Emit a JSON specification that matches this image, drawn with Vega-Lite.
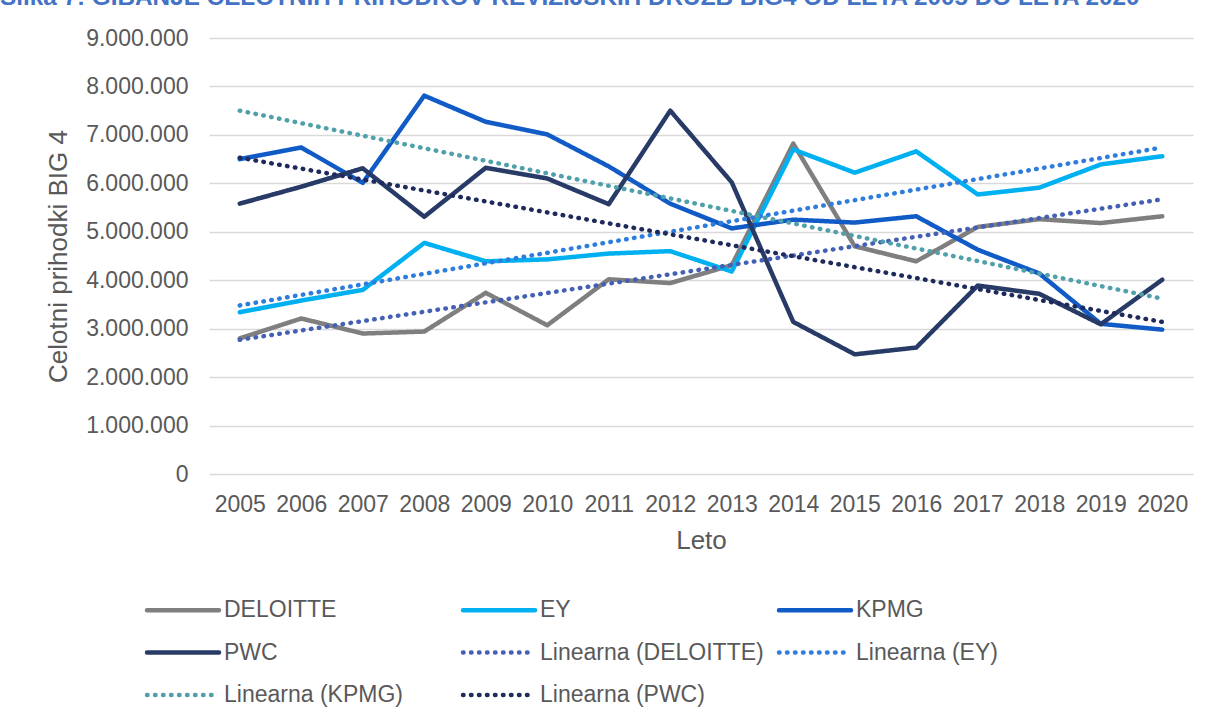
{
  "$schema": "https://vega.github.io/schema/vega-lite/v6.json",
  "width": 984,
  "height": 436,
  "autosize": {"type": "none"},
  "padding": {"left": 209, "top": 38, "right": 13, "bottom": 246},
  "background": "white",
  "config": {
    "font": "Liberation Sans",
    "locale": {"number": {"decimal": ",", "thousands": ".", "grouping": [3], "currency": ["", " €"]}},
    "view": {"stroke": null}
  },
  "title": {
    "text": "Slika 7: GIBANJE CELOTNIH PRIHODKOV REVIZIJSKIH DRUŽB BIG4 OD LETA 2005 DO LETA 2020",
    "anchor": "start",
    "frame": "group",
    "dx": -209,
    "dy": 2,
    "fontSize": 24.3,
    "fontWeight": "bold",
    "color": "#4472C4",
    "baseline": "alphabetic",
    "offset": 0
  },
  "datasets": {
    "series": [
      {"year": "2005", "series": "DELOITTE", "value": 2800000},
      {"year": "2006", "series": "DELOITTE", "value": 3210000},
      {"year": "2007", "series": "DELOITTE", "value": 2900000},
      {"year": "2008", "series": "DELOITTE", "value": 2940000},
      {"year": "2009", "series": "DELOITTE", "value": 3740000},
      {"year": "2010", "series": "DELOITTE", "value": 3070000},
      {"year": "2011", "series": "DELOITTE", "value": 4020000},
      {"year": "2012", "series": "DELOITTE", "value": 3940000},
      {"year": "2013", "series": "DELOITTE", "value": 4310000},
      {"year": "2014", "series": "DELOITTE", "value": 6820000},
      {"year": "2015", "series": "DELOITTE", "value": 4700000},
      {"year": "2016", "series": "DELOITTE", "value": 4390000},
      {"year": "2017", "series": "DELOITTE", "value": 5100000},
      {"year": "2018", "series": "DELOITTE", "value": 5260000},
      {"year": "2019", "series": "DELOITTE", "value": 5180000},
      {"year": "2020", "series": "DELOITTE", "value": 5320000},
      {"year": "2005", "series": "EY", "value": 3340000},
      {"year": "2006", "series": "EY", "value": 3580000},
      {"year": "2007", "series": "EY", "value": 3800000},
      {"year": "2008", "series": "EY", "value": 4770000},
      {"year": "2009", "series": "EY", "value": 4390000},
      {"year": "2010", "series": "EY", "value": 4430000},
      {"year": "2011", "series": "EY", "value": 4550000},
      {"year": "2012", "series": "EY", "value": 4600000},
      {"year": "2013", "series": "EY", "value": 4180000},
      {"year": "2014", "series": "EY", "value": 6700000},
      {"year": "2015", "series": "EY", "value": 6220000},
      {"year": "2016", "series": "EY", "value": 6660000},
      {"year": "2017", "series": "EY", "value": 5770000},
      {"year": "2018", "series": "EY", "value": 5910000},
      {"year": "2019", "series": "EY", "value": 6390000},
      {"year": "2020", "series": "EY", "value": 6560000},
      {"year": "2005", "series": "KPMG", "value": 6500000},
      {"year": "2006", "series": "KPMG", "value": 6740000},
      {"year": "2007", "series": "KPMG", "value": 6010000},
      {"year": "2008", "series": "KPMG", "value": 7810000},
      {"year": "2009", "series": "KPMG", "value": 7270000},
      {"year": "2010", "series": "KPMG", "value": 7010000},
      {"year": "2011", "series": "KPMG", "value": 6350000},
      {"year": "2012", "series": "KPMG", "value": 5580000},
      {"year": "2013", "series": "KPMG", "value": 5070000},
      {"year": "2014", "series": "KPMG", "value": 5250000},
      {"year": "2015", "series": "KPMG", "value": 5190000},
      {"year": "2016", "series": "KPMG", "value": 5320000},
      {"year": "2017", "series": "KPMG", "value": 4630000},
      {"year": "2018", "series": "KPMG", "value": 4140000},
      {"year": "2019", "series": "KPMG", "value": 3100000},
      {"year": "2020", "series": "KPMG", "value": 2980000},
      {"year": "2005", "series": "PWC", "value": 5580000},
      {"year": "2006", "series": "PWC", "value": 5930000},
      {"year": "2007", "series": "PWC", "value": 6310000},
      {"year": "2008", "series": "PWC", "value": 5310000},
      {"year": "2009", "series": "PWC", "value": 6320000},
      {"year": "2010", "series": "PWC", "value": 6100000},
      {"year": "2011", "series": "PWC", "value": 5570000},
      {"year": "2012", "series": "PWC", "value": 7500000},
      {"year": "2013", "series": "PWC", "value": 6020000},
      {"year": "2014", "series": "PWC", "value": 3140000},
      {"year": "2015", "series": "PWC", "value": 2470000},
      {"year": "2016", "series": "PWC", "value": 2610000},
      {"year": "2017", "series": "PWC", "value": 3890000},
      {"year": "2018", "series": "PWC", "value": 3720000},
      {"year": "2019", "series": "PWC", "value": 3090000},
      {"year": "2020", "series": "PWC", "value": 4010000}
    ],
    "trend": [
      {"year": "2005", "series": "Linearna (DELOITTE)", "value": 2770000},
      {"year": "2020", "series": "Linearna (DELOITTE)", "value": 5670000},
      {"year": "2005", "series": "Linearna (EY)", "value": 3480000},
      {"year": "2020", "series": "Linearna (EY)", "value": 6740000},
      {"year": "2005", "series": "Linearna (KPMG)", "value": 7500000},
      {"year": "2020", "series": "Linearna (KPMG)", "value": 3620000},
      {"year": "2005", "series": "Linearna (PWC)", "value": 6530000},
      {"year": "2020", "series": "Linearna (PWC)", "value": 3140000}
    ]
  },
  "encoding": {
    "x": {
      "field": "year",
      "type": "ordinal",
      "title": "Leto",
      "scale": {"type": "point", "padding": 0.5, "domain": ["2005","2006","2007","2008","2009","2010","2011","2012","2013","2014","2015","2016","2017","2018","2019","2020"]},
      "axis": {
        "labelAngle": 0,
        "labelFontSize": 23,
        "labelColor": "#595959",
        "labelPadding": 19,
        "ticks": false,
        "tickSize": 0,
        "domain": false,
        "grid": false,
        "titleFontSize": 26,
        "titleFontWeight": "normal",
        "titleColor": "#595959",
        "titlePadding": 11
      }
    },
    "y": {
      "field": "value",
      "type": "quantitative",
      "title": "Celotni prihodki BIG 4",
      "scale": {"domain": [0, 9000000], "nice": false, "zero": true},
      "axis": {
        "values": [0, 1000000, 2000000, 3000000, 4000000, 5000000, 6000000, 7000000, 8000000, 9000000],
        "format": ",.0f",
        "labelFontSize": 23,
        "labelColor": "#595959",
        "labelPadding": 21,
        "ticks": false,
        "tickSize": 0,
        "domain": false,
        "grid": true,
        "gridColor": "#D9D9D9",
        "gridWidth": 1.5,
        "titleFontSize": 26,
        "titleFontWeight": "normal",
        "titleColor": "#595959",
        "titlePadding": 14
      }
    },
    "color": {
      "field": "series",
      "type": "nominal",
      "scale": {
        "domain": ["DELOITTE", "EY", "KPMG", "PWC", "Linearna (DELOITTE)", "Linearna (EY)", "Linearna (KPMG)", "Linearna (PWC)"],
        "range": ["#7F7F7F", "#00B0F0", "#115BC6", "#283A66", "#4460B4", "#2E7DDC", "#4FA0AA", "#1F2A5C"]
      },
      "legend": {
        "orient": "none",
        "legendX": -62,
        "legendY": 560.5,
        "columns": 3,
        "direction": "horizontal",
        "gridAlign": "all",
        "columnPadding": 6,
        "rowPadding": 18.5,
        "symbolType": "M-1.4375,0H7.5625",
        "symbolSize": 256,
        "labelOffset": 54,
        "labelFontSize": 23,
        "labelColor": "#595959",
        "labelLimit": 400,
        "title": null,
        "padding": 0,
        "encode": {"symbols": {"update": {"strokeCap": {"value": "round"}}}}
      }
    },
    "strokeDash": {
      "field": "series",
      "type": "nominal",
      "scale": {
        "domain": ["DELOITTE", "EY", "KPMG", "PWC", "Linearna (DELOITTE)", "Linearna (EY)", "Linearna (KPMG)", "Linearna (PWC)"],
        "range": [[1, 0], [1, 0], [1, 0], [1, 0], [0.5, 7.5], [0.5, 7.5], [0.5, 7.5], [0.5, 7.5]]
      },
      "legend": {
        "orient": "none",
        "legendX": -62,
        "legendY": 560.5,
        "columns": 3,
        "direction": "horizontal",
        "gridAlign": "all",
        "columnPadding": 6,
        "rowPadding": 18.5,
        "symbolType": "M-1.4375,0H7.5625",
        "symbolSize": 256,
        "labelOffset": 54,
        "labelFontSize": 23,
        "labelColor": "#595959",
        "labelLimit": 400,
        "title": null,
        "padding": 0
      }
    },
    "strokeWidth": {
      "field": "series",
      "type": "nominal",
      "scale": {
        "domain": ["DELOITTE", "EY", "KPMG", "PWC", "Linearna (DELOITTE)", "Linearna (EY)", "Linearna (KPMG)", "Linearna (PWC)"],
        "range": [4.5, 4.5, 4.5, 4.5, 3.2, 3.2, 3.2, 3.2]
      },
      "legend": {
        "orient": "none",
        "legendX": -62,
        "legendY": 560.5,
        "columns": 3,
        "direction": "horizontal",
        "gridAlign": "all",
        "columnPadding": 6,
        "rowPadding": 18.5,
        "symbolType": "M-1.4375,0H7.5625",
        "symbolSize": 256,
        "labelOffset": 54,
        "labelFontSize": 23,
        "labelColor": "#595959",
        "labelLimit": 400,
        "title": null,
        "padding": 0
      }
    }
  },
  "layer": [
    {
      "data": {"name": "series"},
      "mark": {"type": "line", "strokeCap": "round", "strokeJoin": "round"}
    },
    {
      "data": {"name": "trend"},
      "mark": {"type": "line", "strokeCap": "round"}
    }
  ]
}
